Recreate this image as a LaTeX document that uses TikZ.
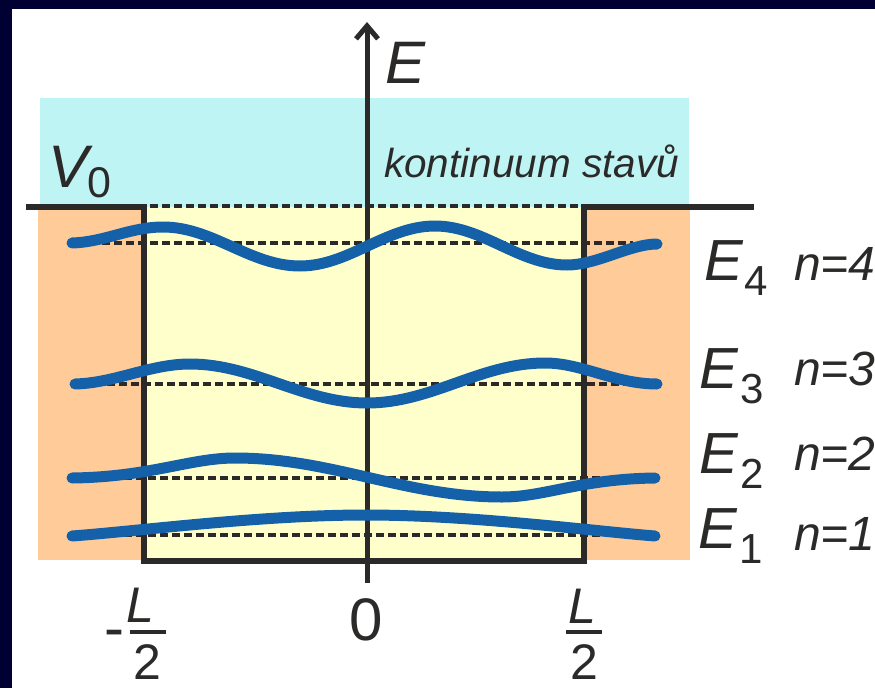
\documentclass[tikz,border=0pt]{standalone}
\usepackage{fontspec}
\setmainfont{Liberation Sans}
\usetikzlibrary{arrows.meta}
\definecolor{navy}{HTML}{000033}
\definecolor{ink}{HTML}{2B2A29}
\definecolor{cyanbg}{HTML}{BFF4F4}
\definecolor{orangebg}{HTML}{FFCC99}
\definecolor{yellowbg}{HTML}{FFFFCC}
\definecolor{wave}{HTML}{1561A9}
\newcommand\myfs[1]{\fontsize{#1}{#1}\selectfont}
\tikzset{
  lbl/.style={inner sep=0pt, outer sep=0pt, anchor=base west, text=ink},
  wall/.style={draw=ink, line width=6pt, line join=miter},
  level/.style={draw=ink, line width=4.5pt, dash pattern=on 7.5pt off 4.5pt},
  psi/.style={draw=wave, line width=11pt, line cap=round},
}
\begin{document}
\begin{tikzpicture}[x=1pt,y=-1pt]
\useasboundingbox (0,0) rectangle (875,688);
\fill[white] (0,0) rectangle (875,688);
\fill[navy] (0,0) rectangle (875,9);
\fill[navy] (0,0) rectangle (12,688);
% backgrounds
\fill[cyanbg] (40,98) rectangle (689,207);
\fill[orangebg] (38,207) rectangle (144,560);
\fill[orangebg] (584,207) rectangle (690,560);
\fill[yellowbg] (144,207) rectangle (584,561);
% well
\draw[wall] (26,207) -- (144,207) -- (144,561) -- (584,561) -- (584,207) -- (754,207);
% axis
\draw[draw=ink, line width=5pt, -{Straight Barb[length=13pt,width=22pt]}] (367,583) -- (367,22);
% energy levels
\draw[level] (150,206) -- (603,206);
\draw[level] (90,243) -- (633,243);
\draw[level] (95,384) -- (632,384);
\draw[level] (100,478) -- (625,478);
\draw[level] (100,535) -- (600,535);
% wave functions
\draw[psi] (72,243) .. controls (105,242) and (130,227) .. (163,227)
  .. controls (213,227) and (250,266) .. (300,266)
  .. controls (349,266) and (386,226) .. (435,226)
  .. controls (483,226) and (519,265) .. (567,265)
  .. controls (597,265) and (630,244) .. (657,244);
\draw[psi] (75,384) .. controls (115,383) and (150,364) .. (190,364)
  .. controls (254,364) and (303,403) .. (367,403)
  .. controls (432,403) and (480,363) .. (545,363)
  .. controls (582,363) and (615,384) .. (657,384);
\draw[psi] (72,478) .. controls (150,477) and (190,458) .. (235,458)
  .. controls (332,458) and (405,497) .. (502,497)
  .. controls (545,497) and (580,479) .. (655,478);
\draw[psi] (72,536) .. controls (140,531) and (260,515) .. (366,515)
  .. controls (472,515) and (592,531) .. (655,536);
% labels
\node[lbl, font=\myfs{60}\itshape] (Elab) at (385,83) {E};
\node[lbl, font=\myfs{60}\itshape] (Vlab) at (48,187) {V};
\node[lbl, font=\myfs{43}] (Vsub) at (87.5,197) {0};
\node[lbl, font=\myfs{40.5}\itshape] (kont) at (384,177) {kontinuum stavů};
\node[lbl, font=\myfs{58}\itshape] (E4) at (704,280) {E};
\node[lbl, font=\myfs{42}] (E4s) at (744,295) {4};
\node[lbl, font=\myfs{48}\itshape] (n4) at (794,280) {n=4};
\node[lbl, font=\myfs{58}\itshape] (E3) at (699,388) {E};
\node[lbl, font=\myfs{42}] (E3s) at (740,403) {3};
\node[lbl, font=\myfs{48}\itshape] (n3) at (794,385) {n=3};
\node[lbl, font=\myfs{58}\itshape] (E2) at (699,473) {E};
\node[lbl, font=\myfs{42}] (E2s) at (740,488) {2};
\node[lbl, font=\myfs{48}\itshape] (n2) at (794,470) {n=2};
\node[lbl, font=\myfs{58}\itshape] (E1) at (698,548) {E};
\node[lbl, font=\myfs{42}] (E1s) at (739,563) {1};
\node[lbl, font=\myfs{48}\itshape] (n1) at (794,550) {n=1};
% x-axis labels
\node[lbl, font=\myfs{60}] (minus) at (104.5,648) {-};
\node[lbl, font=\myfs{50}\itshape] (Lleft) at (126,622) {L};
\draw[ink, line width=4pt] (130,632) -- (166,632);
\node[lbl, font=\myfs{50}] (twoleft) at (133.5,679) {2};
\node[lbl, font=\myfs{60}] (zero) at (349,640) {0};
\node[lbl, font=\myfs{50}\itshape] (Lright) at (568,623) {L};
\draw[ink, line width=4pt] (566,632) -- (602,632);
\node[lbl, font=\myfs{50}] (tworight) at (570.5,679) {2};
\end{tikzpicture}
\end{document}
